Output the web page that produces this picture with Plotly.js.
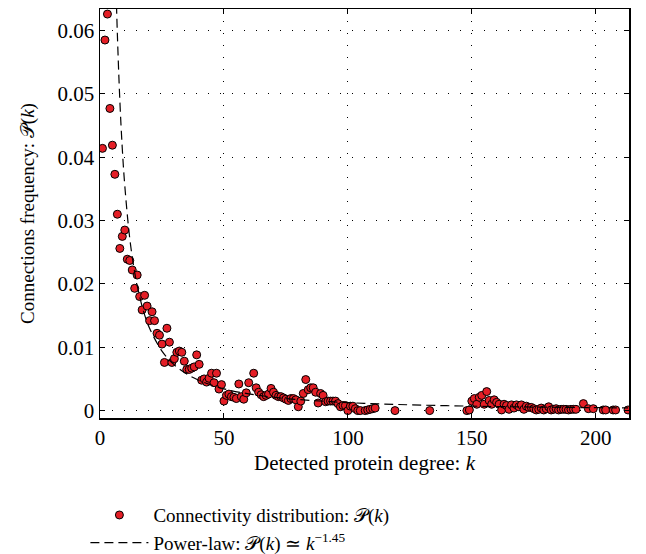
<!DOCTYPE html>
<html>
<head>
<meta charset="utf-8">
<script src="https://cdn.plot.ly/plotly-3.0.1.min.js"></script>
<style>html,body{margin:0;padding:0;background:#fff;}#chart{width:646px;height:554px;}</style>
</head>
<body>
<div id="chart"></div>
<script>
// Connectivity distribution: degree k and frequency P(k)
var degreeK = [1,2,3,4,5,6,7,8,9,10,11,12,13,14,15,16,17,18,19,20,21,22,23,24,25,26,27,28,29,30,
  31,32,33,34,35,36,37,38,39,40,41,42,43,44,45,46,47,48,49,50,51,52,53,54,55,56,57,58,59,60,
  62,63,64,65,66,67,68,69,70,71,72,73,74,75,76,77,78,79,80,81,82,83,84,85,86,87,88,89,90,
  91,92,93,94,95,96,97,98,99,100,101,102,103,104,105,107,108,109,110,111,119,133,148,149,
  150,151,152,153,154,155,156,157,158,159,160,161,162,163,164,165,166,167,168,169,170,
  171,172,173,174,175,176,177,178,179,180,181,182,183,184,185,186,187,188,189,190,191,192,
  195,197,199,203,204,207,208,213];
var freqP = [0.0414,0.0585,0.0626,0.0477,0.0419,0.0373,0.0310,0.0256,0.0275,0.0285,0.0239,0.0237,0.0222,0.0193,0.0214,
  0.0180,0.0159,0.0182,0.0165,0.0142,0.0156,0.0142,0.0122,0.0119,0.0105,0.0076,0.0130,0.0108,0.0076,0.0082,
  0.0092,0.0094,0.0092,0.0078,0.0065,0.0065,0.0067,0.0069,0.0088,0.0073,0.0048,0.0050,0.0045,0.0051,0.0059,
  0.0044,0.0059,0.0034,0.0041,0.0015,0.0024,0.0026,0.0022,0.0021,0.0019,0.0042,0.0022,0.0018,0.0028,0.0044,
  0.0059,0.0036,0.0029,0.0025,0.0022,0.0024,0.0026,0.0035,0.0029,0.0024,0.0022,0.0022,0.0020,0.0018,0.0016,
  0.0019,0.0019,0.0017,0.0006,0.0015,0.0027,0.0049,0.0033,0.0036,0.0036,0.0029,0.0012,0.0027,0.0024,
  0.0014,0.0015,0.0015,0.0015,0.0015,0.0011,0.0006,0.0008,0.0008,0.0000,0.0007,0.0007,0.0003,0.0000,0.0000,
  0.0000,0.0001,0.0002,0.0003,0.0004,0.0000,0.0000,0.0000,0.0001,
  0.0015,0.0019,0.0010,0.0021,0.0024,0.0010,0.0030,0.0016,0.0010,0.0017,0.0013,0.0010,0.0001,0.0010,0.0008,
  0.0002,0.0009,0.0004,0.0009,0.0006,0.0009,0.0002,0.0007,0.0005,0.0005,0.0003,0.0001,0.0002,0.0004,0.0001,
  0.0003,0.0006,0.0001,0.0002,0.0003,0.0001,0.0002,0.0002,0.0002,0.0001,0.0002,0.0002,0.0002,
  0.0011,0.0003,0.0003,0.0001,0.0001,0.0001,0.0001,0.0001];

// Power-law fit curve samples, P(k) ~ k^-1.45
var fitK = [6.5,7,8,9,10,12,14,16,18,20,25,30,35,40,50,60,70,80,100,120,150,180,213];
var fitP = [0.0663,0.0595,0.0490,0.0413,0.0355,0.0272,0.0218,0.0180,0.0151,0.0130,0.0094,0.00721,0.00577,
  0.00475,0.00344,0.00264,0.00211,0.00174,0.00126,0.000966,0.000699,0.000536,0.000421];

var xTicks = [0,50,100,150,200];
var yTicks = [0,0.01,0.02,0.03,0.04,0.05,0.06];
var yTickText = ['0','0.01','0.02','0.03','0.04','0.05','0.06'];

var FONT = 'Liberation Serif, Times New Roman, serif';

var traces = [
  {
    x: degreeK, y: freqP, type: 'scatter', mode: 'markers',
    name: 'Connectivity distribution: \uD835\uDCAB(<i>k</i>)',
    marker: {size: 8, color: '#e41e26', line: {color: '#000', width: 1}},
    cliponaxis: true
  },
  {
    x: fitK, y: fitP, type: 'scatter', mode: 'lines',
    name: 'Power-law: \uD835\uDCAB(<i>k</i>) \u2243 <i>k</i><sup>\u22121.45</sup>',
    line: {color: '#000', width: 1.2, dash: '9px,5px', shape: 'spline'}
  }
];

var axisCommon = {
  showline: true, linecolor: '#000', linewidth: 1.5, mirror: 'ticks',
  ticks: 'inside', ticklen: 5, tickcolor: '#000', tickwidth: 1,
  showgrid: true, gridcolor: '#000', gridwidth: 1, griddash: '1px,11px',
  zeroline: false, automargin: false, tickfont: {family: FONT, size: 21, color: '#000'}
};

var layout = {
  width: 646, height: 554,
  margin: {l: 100, r: 17, t: 9, b: 136, autoexpand: false},
  paper_bgcolor: '#fff', plot_bgcolor: '#fff',
  font: {family: FONT, size: 19, color: '#000'},
  showlegend: true,
  legend: {x: -0.0276, y: -0.191, xanchor: 'left', yanchor: 'top', orientation: 'v',
    itemwidth: 58, font: {family: FONT, size: 19, color: '#000'}, bgcolor: 'rgba(0,0,0,0)', tracegroupgap: 0},
  xaxis: Object.assign({}, axisCommon, {
    range: [0, 213.4], tickvals: xTicks,
    title: {text: 'Detected protein degree: <i>k</i>', font: {family: FONT, size: 21, color: '#000'}, standoff: 6}
  }),
  yaxis: Object.assign({}, axisCommon, {
    range: [-0.00117, 0.0634], tickvals: yTicks, ticktext: yTickText,
    title: {text: 'Connections frequency: \uD835\uDCAB(<i>k</i>)', font: {family: FONT, size: 19, color: '#000'}, standoff: 18}
  })
};

Plotly.newPlot('chart', traces, layout, {displayModeBar: false, staticPlot: true});
</script>
</body>
</html>
